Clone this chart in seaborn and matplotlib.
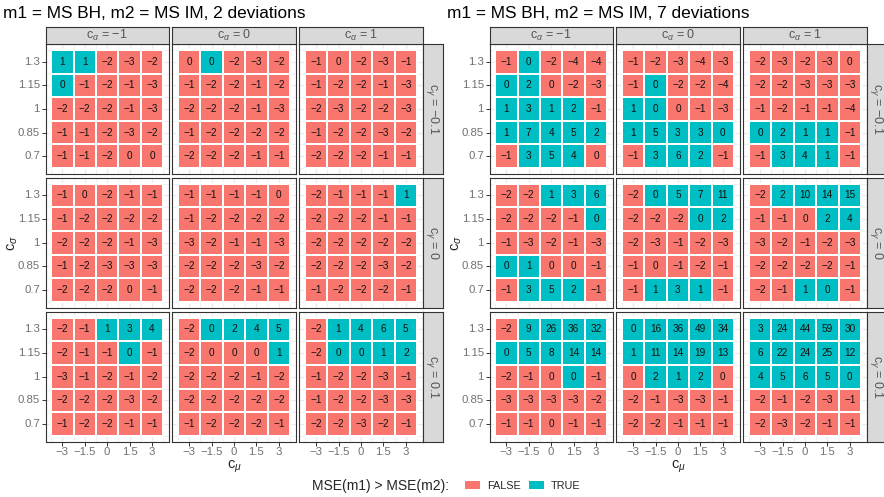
import numpy as np
import pandas as pd
import matplotlib
matplotlib.use("Agg")
import matplotlib.pyplot as plt
from matplotlib.colors import ListedColormap
from matplotlib.patches import Patch
import seaborn as sns

# Grid of the simulation design
mu_values = [-3, -1.5, 0, 1.5, 3]          # columns of every facet
sigma_values = [1.3, 1.15, 1, 0.85, 0.7]   # rows of every facet (top to bottom)
alpha_levels = [-1, 0, 1]                  # facet columns
gamma_levels = [-0.1, 0, 0.1]              # facet rows

# Rounded MSE differences; one 5x5 block per c_alpha (-1, 0, 1)
# "T" marks cells where MSE(m1) > MSE(m2)
dev2_gamma_neg = [
    [[1, 1, -2, -3, -2], [0, -1, -2, -1, -3], [-2, -2, -2, -1, -3], [-1, -1, -2, -3, -2], [-1, -1, -2, 0, 0]],
    [[0, 0, -2, -3, -2], [-1, -2, -2, -1, -2], [-2, -2, -2, -1, -3], [-1, -2, -2, -2, -2], [-2, -2, -2, -1, -1]],
    [[-1, 0, -2, -3, -1], [-1, -2, -2, -1, -3], [-2, -3, -2, -2, -3], [-1, -2, -2, -3, -2], [-2, -2, -2, -1, -1]],
]
dev2_gamma_neg_true = [
    ["TTFFF", "TFFFF", "FFFFF", "FFFFF", "FFFFF"],
    ["FTFFF", "FFFFF", "FFFFF", "FFFFF", "FFFFF"],
    ["FFFFF", "FFFFF", "FFFFF", "FFFFF", "FFFFF"],
]
dev2_gamma_zero = [
    [[-1, 0, -2, -1, -1], [-1, -2, -2, -2, -2], [-2, -2, -2, -1, -3], [-1, -2, -3, -3, -3], [-2, -2, -2, 0, -1]],
    [[-1, -1, -1, -1, 0], [-1, -2, -2, -2, -2], [-3, -2, -1, -1, -3], [-2, -2, -2, -3, -2], [-2, -2, -2, -1, -1]],
    [[-2, -1, -1, -1, 1], [-2, -2, -2, -1, -1], [-2, -2, -2, -2, -2], [-2, -2, -2, -3, -2], [-1, -2, -2, -2, -1]],
]
dev2_gamma_zero_true = [
    ["FFFFF", "FFFFF", "FFFFF", "FFFFF", "FFFFF"],
    ["FFFFF", "FFFFF", "FFFFF", "FFFFF", "FFFFF"],
    ["FFFFT", "FFFFF", "FFFFF", "FFFFF", "FFFFF"],
]
dev2_gamma_pos = [
    [[-2, -1, 1, 3, 4], [-2, -1, -1, 0, -1], [-3, -1, -2, -1, -2], [-2, -2, -2, -3, -2], [-1, -2, -2, -1, -1]],
    [[-2, 0, 2, 4, 5], [-2, 0, 0, 0, 1], [-2, -2, -2, -1, -2], [-2, -2, -2, -2, -2], [-1, -2, -2, -2, -1]],
    [[-2, 1, 4, 6, 5], [-2, 0, 0, 1, 2], [-1, -2, -2, -3, -1], [-1, -2, -2, -3, -3], [-2, -2, -3, -2, -1]],
]
dev2_gamma_pos_true = [
    ["FFTTT", "FFFTF", "FFFFF", "FFFFF", "FFFFF"],
    ["FTTTT", "FFFFT", "FFFFF", "FFFFF", "FFFFF"],
    ["FTTTT", "FTTTT", "FFFFF", "FFFFF", "FFFFF"],
]

dev7_gamma_neg = [
    [[-1, 0, -2, -4, -4], [0, 2, 0, -2, -3], [1, 3, 1, 2, -1], [1, 7, 4, 5, 2], [-1, 3, 5, 4, 0]],
    [[-1, -2, -3, -4, -3], [-1, 0, -2, -2, -4], [1, 0, 0, -1, -3], [1, 5, 3, 3, 0], [-1, 3, 6, 2, -1]],
    [[-2, -3, -2, -3, 0], [-2, -2, -3, -3, -3], [-1, -2, -1, -1, -4], [0, 2, 1, 1, -1], [-1, 3, 4, 1, -1]],
]
dev7_gamma_neg_true = [
    ["FTFFF", "TTFFF", "TTTTF", "TTTTT", "FTTTF"],
    ["FFFFF", "FTFFF", "TTFFF", "TTTTT", "FTTTF"],
    ["FFFFF", "FFFFF", "FFFFF", "TTTTF", "FTTTF"],
]
dev7_gamma_zero = [
    [[-2, -2, 1, 3, 6], [-2, -2, -2, -1, 0], [-1, -3, -2, -1, -3], [0, 1, 0, 0, -1], [-1, 3, 5, 2, -1]],
    [[-2, 0, 5, 7, 11], [-2, -2, -2, 0, 2], [-2, -3, -1, -2, -3], [-1, 0, -1, -2, -1], [-1, 1, 3, 1, -1]],
    [[-2, 2, 10, 14, 15], [-1, -1, 0, 2, 4], [-3, -2, -1, -2, -3], [-2, -2, -2, -2, -1], [-2, -1, 1, 0, -1]],
]
dev7_gamma_zero_true = [
    ["FFTTT", "FFFFT", "FFFFF", "TTFFF", "FTTTF"],
    ["FTTTT", "FFFTT", "FFFFF", "FFFFF", "FTTTF"],
    ["FTTTT", "FFFTT", "FFFFF", "FFFFF", "FFTTF"],
]
dev7_gamma_pos = [
    [[-2, 9, 26, 36, 32], [0, 5, 8, 14, 14], [-2, -1, 0, 0, -1], [-3, -3, -3, -3, -2], [-1, -1, 0, -1, -1]],
    [[0, 16, 36, 49, 34], [1, 11, 14, 19, 13], [0, 2, 1, 2, 0], [-2, -1, -3, -3, -1], [-2, -2, -1, -1, -1]],
    [[3, 24, 44, 59, 30], [6, 22, 24, 25, 12], [4, 5, 6, 5, 0], [-2, -1, -2, -3, -1], [-2, -3, -2, -1, -1]],
]
dev7_gamma_pos_true = [
    ["FTTTT", "TTTTT", "FFFTF", "FFFFF", "FFFFF"],
    ["TTTTT", "TTTTT", "FTTTF", "FFFFF", "FFFFF"],
    ["TTTTT", "TTTTT", "TTTTT", "FFFFF", "FFFFF"],
]

titles = ["m1 = MS BH, m2 = MS IM, 2 deviations", "m1 = MS BH, m2 = MS IM, 7 deviations"]
legend_title = "MSE(m1) > MSE(m2):"
legend_labels = ["FALSE", "TRUE"]

false_color = "#F8766D"
true_color = "#00BFC4"

sns.set_theme(style="white")
plt.rcParams["font.family"] = ["Liberation Sans", "DejaVu Sans"]
plt.rcParams["mathtext.fontset"] = "custom"
plt.rcParams["mathtext.rm"] = "Liberation Sans"
plt.rcParams["mathtext.it"] = "Liberation Sans:italic"

W, H = 884, 497
fig = plt.figure(figsize=(W / 100, H / 100), dpi=100)


def frac_rect(x0, y0, w, h):
    return [x0 / W, 1 - (y0 + h) / H, w / W, h / H]


def fmt_num(v):
    return f"{v:g}".replace("-", "\u2212")


panel_x = [45.5, 172.3, 299.3]
panel_w = 123.3
row_y = [44.0, 177.7, 311.7]
panel_h = 130.0
strip_top_y = 27.0
strip_h = 17.0
strip_w = 20.0
block_offsets = [0.0, 444.0]
border_col = "#333333"
grid_col = "#EBEBEB"
tick_col = "#707070"
strip_text_col = "#555555"
cmap = ListedColormap([false_color, true_color])

blocks = [
    ([dev2_gamma_neg, dev2_gamma_zero, dev2_gamma_pos],
     [dev2_gamma_neg_true, dev2_gamma_zero_true, dev2_gamma_pos_true]),
    ([dev7_gamma_neg, dev7_gamma_zero, dev7_gamma_pos],
     [dev7_gamma_neg_true, dev7_gamma_zero_true, dev7_gamma_pos_true]),
]


def style_box(ax):
    for s in ax.spines.values():
        s.set_visible(True)
        s.set_color(border_col)
        s.set_linewidth(0.8)


for b, (vals_by_gamma, true_by_gamma) in enumerate(blocks):
    off = block_offsets[b]
    for i, gamma in enumerate(gamma_levels):
        for j, alpha in enumerate(alpha_levels):
            ax = fig.add_axes(frac_rect(off + panel_x[j], row_y[i], panel_w, panel_h))
            vals = np.array(vals_by_gamma[i][j])
            flags = np.array([[c == "T" for c in row] for row in true_by_gamma[i][j]], dtype=int)
            labels = np.array([[fmt_num(v) for v in row] for row in vals])
            df = pd.DataFrame(flags, index=sigma_values, columns=mu_values)
            sns.heatmap(df, ax=ax, annot=labels, fmt="", cmap=cmap, vmin=0, vmax=1,
                        cbar=False, linewidths=1.3, linecolor="white",
                        annot_kws=dict(color="#111111", fontsize=7.2))
            ax.set_xlim(-0.25, 5.25)
            ax.set_ylim(5.25, -0.25)
            ax.set_xticks(np.arange(5) + 0.5)
            ax.set_yticks(np.arange(5) + 0.5)
            ax.set_xticks(np.arange(6), minor=True)
            ax.set_yticks(np.arange(6), minor=True)
            ax.set_xticklabels([fmt_num(v) for v in mu_values], rotation=0)
            ax.set_yticklabels([fmt_num(v) for v in sigma_values], rotation=0)
            ax.set_axisbelow(True)
            ax.grid(which="major", color=grid_col, lw=0.9)
            ax.grid(which="minor", color=grid_col, lw=0.5)
            ax.tick_params(which="minor", length=0)
            ax.tick_params(which="major", length=3, width=0.7, color=border_col,
                           labelcolor=tick_col, labelsize=8.2, pad=1.0)
            ax.tick_params(axis="x", bottom=(i == 2), labelbottom=(i == 2))
            ax.tick_params(axis="y", left=(j == 0), labelleft=(j == 0))
            ax.set_xlabel("")
            ax.set_ylabel("")
            style_box(ax)

            if i == 0:
                sax = fig.add_axes(frac_rect(off + panel_x[j], strip_top_y, panel_w, strip_h))
                sax.set_facecolor("#D9D9D9")
                sax.set_xticks([])
                sax.set_yticks([])
                style_box(sax)
                sax.text(0.5, 0.5, r"c$_\alpha$ = " + fmt_num(alpha), transform=sax.transAxes,
                         ha="center", va="center", fontsize=9, color=strip_text_col)
            if j == 2:
                rax = fig.add_axes(frac_rect(off + panel_x[j] + panel_w, row_y[i], strip_w, panel_h))
                rax.set_facecolor("#D9D9D9")
                rax.set_xticks([])
                rax.set_yticks([])
                style_box(rax)
                rax.text(0.5, 0.5, r"c$_\gamma$ = " + fmt_num(gamma), transform=rax.transAxes,
                         ha="center", va="center", rotation=-90, fontsize=9, color=strip_text_col)

    # block title and axis titles
    fig.text((off + 3) / W, 1 - 13 / H, titles[b], fontsize=12.4, ha="left", va="center",
             color="black")
    cx = off + (panel_x[0] + panel_x[2] + panel_w) / 2
    fig.text(cx / W, 1 - 459 / H, r"c$_\mu$", fontsize=10.5, ha="center", va="top")
    cy = (row_y[0] + row_y[2] + panel_h) / 2
    fig.text((off + 13) / W, 1 - cy / H, r"c$_\sigma$", fontsize=10.5, ha="center",
             va="center", rotation=90)

# legend
fig.text(312 / W, 1 - 486 / H, legend_title, fontsize=10, ha="left", va="center")
handles = [Patch(facecolor=false_color, edgecolor="none", label=legend_labels[0]),
           Patch(facecolor=true_color, edgecolor="none", label=legend_labels[1])]
fig.legend(handles=handles, loc="center left", bbox_to_anchor=(465 / W, 1 - 486 / H),
           ncol=2, frameon=False, fontsize=7.8, handlelength=1.4, handleheight=0.7,
           handletextpad=0.6, columnspacing=0.8, borderpad=0, borderaxespad=0)

fig.savefig("out.png", dpi=100, facecolor="white")
